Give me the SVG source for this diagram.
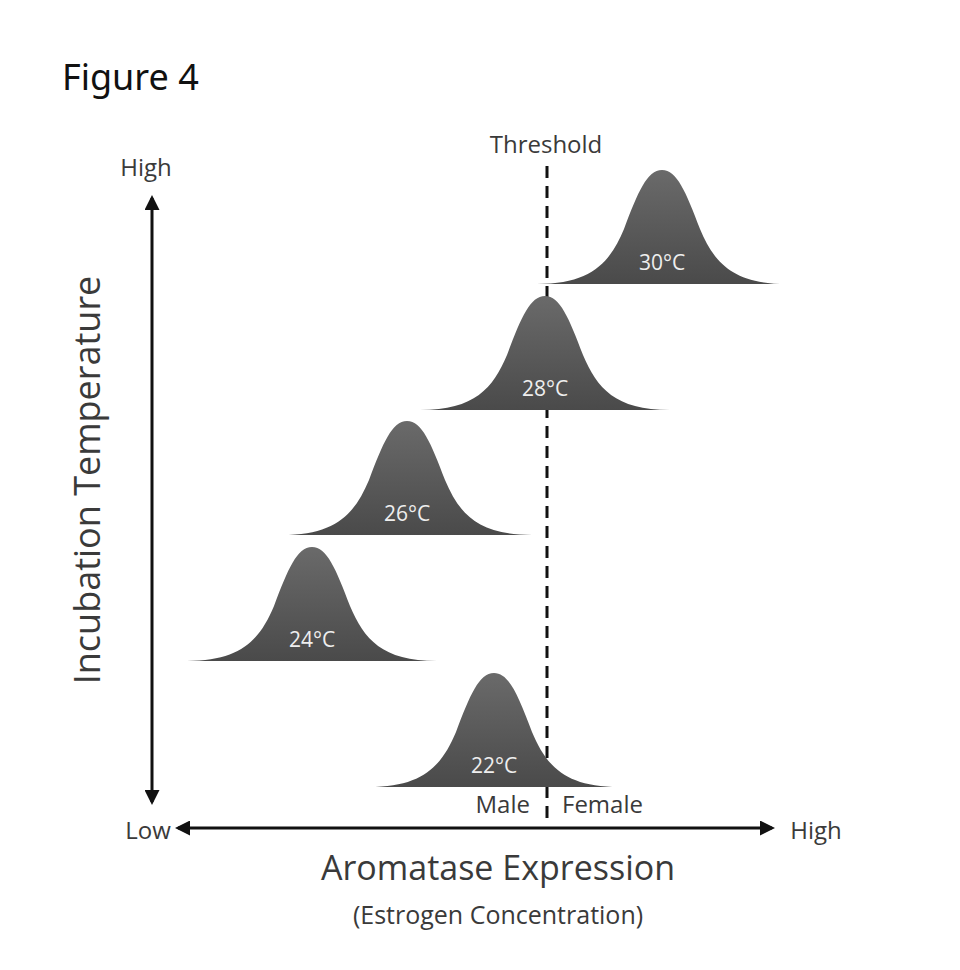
<svg xmlns="http://www.w3.org/2000/svg" width="960" height="970" viewBox="0 0 960 970">
<style>
.t{font-family:"Open Sans","Liberation Sans",sans-serif;fill:#3a3a3a}
.w{font-family:"Open Sans","Liberation Sans",sans-serif;fill:#eee;font-size:21px;text-anchor:middle}
.ax{stroke:#111;stroke-width:3;fill:none}
</style>
<defs>
<marker id="ah" viewBox="0 0 10 10" refX="8" refY="5" markerWidth="5" markerHeight="5" orient="auto-start-reverse"><path d="M0 0L10 5L0 10Z" fill="#111"/></marker>
<linearGradient id="g" x1="0" y1="0" x2="0" y2="1"><stop offset="0" stop-color="#6a6a6a"/><stop offset="1" stop-color="#4a4a4a"/></linearGradient>
<path id="bell" d="M-125 0C-70 0-52-22-38-55C-24-92-15-114 0-114C15-114 24-92 38-55C52-22 70 0 125 0Z" fill="url(#g)"/>
</defs>
<rect width="960" height="970" fill="#fff"/>
<text x="62" y="90" style="font-family:'Noto Sans','Liberation Sans',sans-serif;font-size:36px;fill:#111">Figure 4</text>
<g id="connectors">
<line class="ax" x1="152" y1="198" x2="152" y2="802" marker-start="url(#ah)" marker-end="url(#ah)"/>
<line class="ax" x1="178" y1="828" x2="772" y2="828" marker-start="url(#ah)" marker-end="url(#ah)"/>
<line x1="547" y1="166" x2="547" y2="826" stroke="#111" stroke-width="3" stroke-dasharray="12,8"/>
</g>
<g id="c30"><use href="#bell" transform="translate(662,284)"/><text class="w" x="662" y="270">30°C</text></g>
<g id="c28"><use href="#bell" transform="translate(545,410)"/><text class="w" x="545" y="396">28°C</text></g>
<g id="c26"><use href="#bell" transform="translate(407,535)"/><text class="w" x="407" y="521">26°C</text></g>
<g id="c24"><use href="#bell" transform="translate(312,661)"/><text class="w" x="312" y="647">24°C</text></g>
<g id="c22"><use href="#bell" transform="translate(494,787)"/><text class="w" x="494" y="773">22°C</text></g>
<g id="labels">
<text class="t" x="546" y="153" font-size="24" text-anchor="middle">Threshold</text>
<text class="t" x="146" y="176" font-size="24" text-anchor="middle">High</text>
<text class="t" x="148" y="839" font-size="24" text-anchor="middle">Low</text>
<text class="t" x="816" y="839" font-size="24" text-anchor="middle">High</text>
<text class="t" x="530" y="813" font-size="24" text-anchor="end">Male</text>
<text class="t" x="562" y="813" font-size="24">Female</text>
<text class="t" x="498" y="880" font-size="34" text-anchor="middle">Aromatase Expression</text>
<text class="t" x="498" y="924" font-size="25" text-anchor="middle">(Estrogen Concentration)</text>
<text class="t" transform="translate(100,480) rotate(-90)" font-size="36" text-anchor="middle">Incubation Temperature</text>
</g>
</svg>
